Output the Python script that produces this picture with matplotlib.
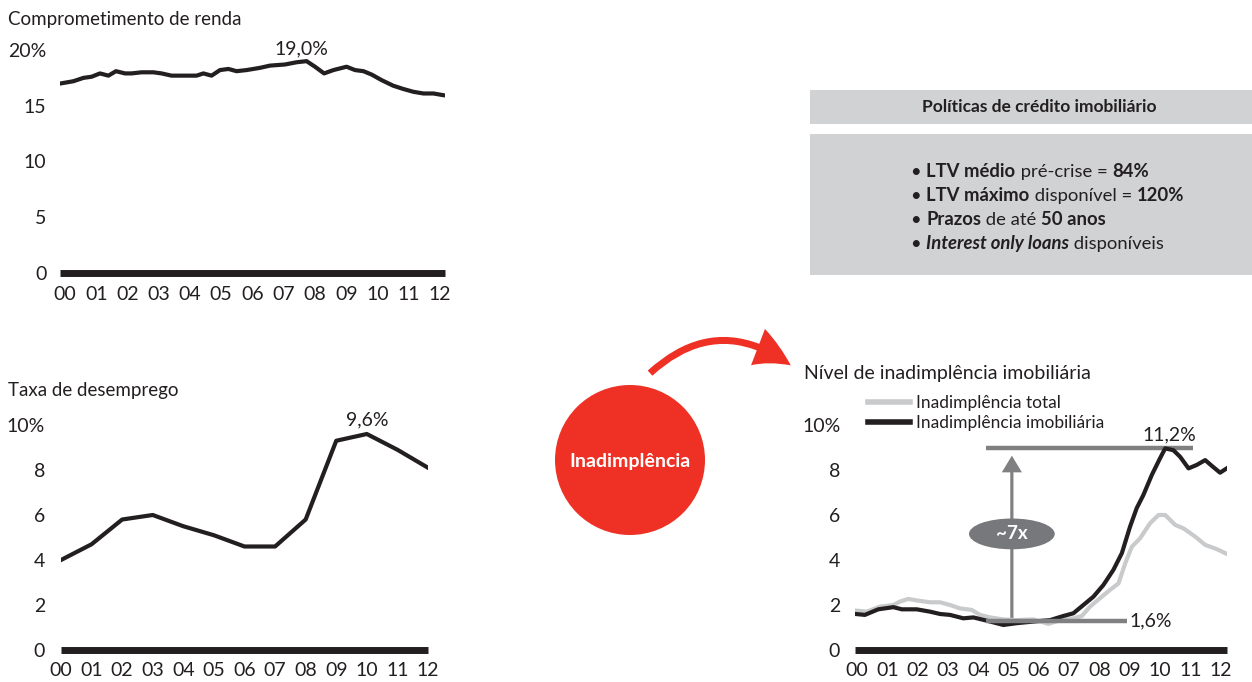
import matplotlib
matplotlib.use("Agg")
import matplotlib.pyplot as plt
from matplotlib.patches import Rectangle, Circle, Ellipse, FancyArrowPatch

plt.rcParams['font.family'] = ['Lato', 'DejaVu Sans']

TEXTO = '#231f20'
VERMELHO = '#ee3124'
CINZA_CLARO = '#c9cacc'
CINZA_ESCURO = '#808082'
CINZA_CAIXA = '#d1d2d4'

# Comprometimento de renda (% da renda), anos desde 2000
anos_renda = [-0.14, 0.27, 0.59, 0.85, 1.12, 1.39, 1.63, 1.92, 2.13, 2.45, 2.83,
              3.09, 3.41, 3.79, 4.21, 4.43, 4.69, 4.96, 5.23, 5.49, 5.81, 6.24,
              6.56, 7.04, 7.41, 7.73, 8.0, 8.29, 8.59, 9.01, 9.28, 9.55, 9.81,
              10.13, 10.5, 10.83, 11.15, 11.47, 11.79, 12.1]
renda = [17.0, 17.2, 17.5, 17.6, 17.9, 17.7, 18.1, 17.9, 17.9, 18.0, 18.0,
         17.9, 17.7, 17.7, 17.7, 17.9, 17.7, 18.2, 18.3, 18.1, 18.2, 18.4,
         18.6, 18.7, 18.9, 19.0, 18.5, 17.9, 18.2, 18.5, 18.2, 18.1, 17.8,
         17.3, 16.8, 16.5, 16.25, 16.1, 16.1, 15.95]

# Taxa de desemprego anual (%)
anos_desemprego = list(range(13))
desemprego = [4.0, 4.7, 5.8, 6.0, 5.5, 5.1, 4.6, 4.6, 5.8, 9.3, 9.6, 8.9, 8.1]

# Inadimplência (%)
anos_imob = [-0.04, 0.26, 0.70, 1.2, 1.48, 1.97, 2.41, 2.74, 3.07, 3.51, 3.84,
             4.28, 4.83, 5.27, 5.82, 6.37, 6.81, 7.14, 7.47, 7.8, 8.13, 8.46,
             8.74, 9.01, 9.23, 9.45, 9.73, 10.0, 10.17, 10.44, 10.66, 10.94,
             11.21, 11.49, 11.71, 11.98, 12.2]
inad_imob = [2.0, 1.95, 2.26, 2.38, 2.26, 2.26, 2.13, 2.0, 1.95, 1.76, 1.81,
             1.63, 1.39, 1.49, 1.58, 1.66, 1.89, 2.04, 2.5, 2.96, 3.61, 4.45,
             5.38, 6.85, 7.88, 8.61, 9.73, 10.65, 11.2, 11.1, 10.74, 10.09,
             10.28, 10.55, 10.23, 9.85, 10.09]
anos_total = [-0.04, 0.32, 0.76, 1.2, 1.42, 1.69, 2.02, 2.41, 2.74, 3.07, 3.4,
              3.78, 4.06, 4.39, 4.83, 5.27, 5.82, 6.32, 6.7, 7.14, 7.42, 7.69,
              8.02, 8.35, 8.63, 8.85, 9.07, 9.34, 9.67, 9.95, 10.17, 10.5,
              10.77, 11.16, 11.49, 11.88, 12.2]
inad_total = [2.19, 2.13, 2.41, 2.5, 2.69, 2.84, 2.74, 2.65, 2.65, 2.5, 2.31,
              2.23, 1.95, 1.81, 1.7, 1.66, 1.7, 1.45, 1.66, 1.76, 1.89, 2.41,
              2.88, 3.34, 3.7, 4.81, 5.74, 6.2, 7.04, 7.5, 7.5, 6.95, 6.76,
              6.3, 5.84, 5.6, 5.34]
inad_min, inad_max = 1.6, 11.2

rotulos_anos = ['%02d' % a for a in range(13)]

W, H = 1252, 682
fig = plt.figure(figsize=(W / 100, H / 100), dpi=100)


def pct(v):
    return ('%.1f%%' % v).replace('.', ',')


def eixo_px(esq, topo, dir, base, **kw):
    return fig.add_axes([esq / W, 1 - base / H, (dir - esq) / W, (base - topo) / H], **kw)


def estilo(ax, yticks, ylabels, ypad):
    for s in ['top', 'right', 'left']:
        ax.spines[s].set_visible(False)
    ax.spines['bottom'].set_linewidth(5)
    ax.spines['bottom'].set_color(TEXTO)
    ax.spines['bottom'].set_capstyle('butt')
    ax.set_facecolor('none')
    ax.set_xticks(range(13))
    ax.set_xticklabels(rotulos_anos)
    ax.set_yticks(yticks)
    ax.set_yticklabels(ylabels)
    ax.tick_params(axis='x', length=0, pad=9, labelsize=14, labelcolor=TEXTO)
    ax.tick_params(axis='y', length=0, pad=ypad, labelsize=14, labelcolor=TEXTO)


# camada de fundo em pixels para caixas, círculo e seta
fundo = fig.add_axes([0, 0, 1, 1], zorder=0)
fundo.set_xlim(0, W)
fundo.set_ylim(H, 0)
fundo.axis('off')

# --- Comprometimento de renda ---
ax1 = eixo_px(60.3, 50, 444.7, 273, zorder=2)
ax1.plot(anos_renda, renda, color=TEXTO, lw=3, solid_joinstyle='round')
ax1.set_xlim(-0.15, 12.15)
ax1.set_ylim(0, 20)
estilo(ax1, [0, 5, 10, 15, 20], ['0', '5', '10', '15', '20%'], 10)
i_pico = renda.index(max(renda))
ax1.annotate(pct(renda[i_pico]), xy=(anos_renda[i_pico] - 0.15, renda[i_pico]),
             xytext=(0, 3), textcoords='offset points', ha='center', va='bottom',
             fontsize=14, color=TEXTO)
fig.text(8 / W, 1 - 20 / H, 'Comprometimento de renda', fontsize=13.5, color=TEXTO,
         ha='left', va='center')

# --- Taxa de desemprego ---
ax2 = eixo_px(61, 425, 428, 650, zorder=2)
ax2.plot(anos_desemprego, desemprego, color=TEXTO, lw=3, solid_joinstyle='round')
ax2.set_xlim(0, 12)
ax2.set_ylim(0, 10)
estilo(ax2, [0, 2, 4, 6, 8, 10], ['0', '2', '4', '6', '8', '10%'], 11.5)
i_max = desemprego.index(max(desemprego))
ax2.annotate(pct(desemprego[i_max]), xy=(anos_desemprego[i_max], desemprego[i_max]),
             xytext=(0, 4), textcoords='offset points', ha='center', va='bottom',
             fontsize=14, color=TEXTO)
fig.text(8 / W, 1 - 390 / H, 'Taxa de desemprego', fontsize=13.5, color=TEXTO,
         ha='left', va='center')

# --- Inadimplência imobiliária ---
escala = 1.25  # marcações do eixo em unidades comprimidas
ax3 = eixo_px(855.5, 425, 1226.7, 650, zorder=2)
ax3.plot(anos_total, inad_total, color=CINZA_CLARO, lw=3, solid_joinstyle='round',
         label='Inadimplência total')
ax3.plot(anos_imob, inad_imob, color=TEXTO, lw=3, solid_joinstyle='round',
         label='Inadimplência imobiliária')
ax3.set_xlim(-0.05, 12.2)
ax3.set_ylim(0, 10 * escala)
estilo(ax3, [v * escala for v in [0, 2, 4, 6, 8, 10]], ['0', '2', '4', '6', '8', '10%'], 11)

ax3.hlines(inad_max, 4.27, 11.08, color=CINZA_ESCURO, lw=3.2, zorder=1)
ax3.hlines(inad_min, 4.27, 8.9, color=CINZA_ESCURO, lw=3.2, zorder=3)
ax3.text(10.3, inad_max + 0.3, pct(inad_max), ha='center', va='bottom',
         fontsize=14, color=TEXTO)
ax3.text(9.0, inad_min, pct(inad_min), ha='left', va='center', fontsize=14, color=TEXTO)
seta = FancyArrowPatch((5.11, inad_min), (5.11, inad_max - 0.25),
                       arrowstyle='simple,head_length=12,head_width=14.5,tail_width=2.3',
                       mutation_scale=1, color=CINZA_ESCURO, lw=0, zorder=1)
ax3.add_patch(seta)
ax3.add_patch(Ellipse((5.11, 6.45), 2.83, 1.71, color='#77787b', lw=0, zorder=4))
ax3.text(5.11, 6.45, '~7x', color='white', fontsize=13.5, fontweight='bold',
         ha='center', va='center', zorder=5)
leg = ax3.legend(loc='upper left', bbox_to_anchor=(0.034, 1.135), frameon=False,
                 fontsize=12.5, handlelength=2.4, handletextpad=0.35, labelspacing=0.27,
                 borderaxespad=0, borderpad=0, labelcolor=TEXTO)
for h in leg.get_lines():
    h.set_linewidth(4)
fig.text(804 / W, 1 - 374 / H, 'Nível de inadimplência imobiliária', fontsize=14,
         color=TEXTO, ha='left', va='center')

# --- Caixa de políticas de crédito ---
fundo.add_patch(Rectangle((810, 90), W - 810, 34, color=CINZA_CAIXA, lw=0))
fundo.add_patch(Rectangle((810, 134), W - 810, 141, color=CINZA_CAIXA, lw=0))
fundo.text(1039, 107, 'Políticas de crédito imobiliário', fontsize=12.5,
           fontweight='bold', color=TEXTO, ha='center', va='center')

linhas = [
    [('• ', 'normal', 'normal'), ('LTV médio', 'bold', 'normal'),
     (' pré-crise = ', 'normal', 'normal'), ('84%', 'bold', 'normal')],
    [('• ', 'normal', 'normal'), ('LTV máximo', 'bold', 'normal'),
     (' disponível = ', 'normal', 'normal'), ('120%', 'bold', 'normal')],
    [('• ', 'normal', 'normal'), ('Prazos', 'bold', 'normal'),
     (' de até ', 'normal', 'normal'), ('50 anos', 'bold', 'normal')],
    [('• ', 'normal', 'normal'), ('Interest only loans', 'bold', 'italic'),
     (' disponíveis', 'normal', 'normal')],
]
for n, partes in enumerate(linhas):
    y = 172 + n * 24
    t = None
    for txt, peso, estilo_fonte in partes:
        if t is None:
            t = fundo.text(911, y, txt, fontsize=13.3, fontweight=peso, fontstyle=estilo_fonte,
                           color=TEXTO, ha='left', va='center')
        else:
            t = fundo.annotate(txt, xy=(1, 0), xycoords=t, fontsize=13.3, fontweight=peso,
                               fontstyle=estilo_fonte, color=TEXTO, ha='left', va='bottom')

# --- Círculo e seta vermelha ---
fundo.add_patch(Circle((630, 460), 75, color=VERMELHO, lw=0))
fundo.text(630, 461, 'Inadimplência', color='white', fontsize=14, fontweight='bold',
           ha='center', va='center')
fundo.add_patch(FancyArrowPatch((648, 375), (793, 367), connectionstyle='arc3,rad=-0.42',
                                arrowstyle='simple,head_length=27,head_width=28,tail_width=5',
                                mutation_scale=1, color=VERMELHO, lw=0))

fig.savefig('out.png', dpi=100)
